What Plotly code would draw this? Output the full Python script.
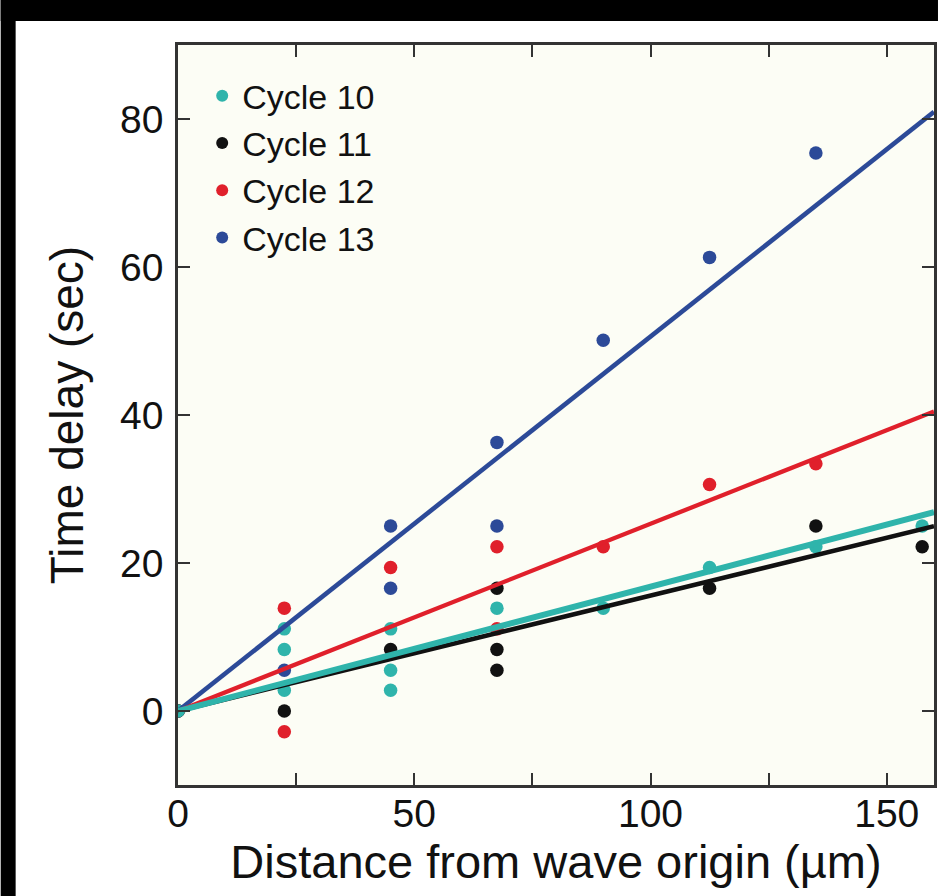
import plotly.graph_objects as go

# ---------------- data ----------------
cycles = ["Cycle 10", "Cycle 11", "Cycle 12", "Cycle 13"]
colors = ["#2fb4ab", "#111111", "#e0202b", "#2c4a98"]

c10_x = [0, 22.5, 22.5, 22.5, 45, 45, 45, 67.5, 90, 112.5, 135, 157.5]
c10_y = [0, 11.1, 8.3, 2.8, 11.1, 5.5, 2.8, 13.9, 13.9, 19.4, 22.2, 25.0]

c11_x = [0, 22.5, 45, 67.5, 67.5, 67.5, 112.5, 135, 157.5]
c11_y = [0, 0.0, 8.3, 16.6, 8.3, 5.5, 16.6, 25.0, 22.2]

c12_x = [0, 22.5, 22.5, 45, 67.5, 67.5, 90, 112.5, 135]
c12_y = [0, 13.9, -2.8, 19.4, 22.2, 11.1, 22.2, 30.6, 33.4]

c13_x = [0, 22.5, 45, 45, 67.5, 67.5, 90, 112.5, 135]
c13_y = [0, 5.5, 25.0, 16.6, 36.3, 25.0, 50.1, 61.3, 75.4]

# slopes of fitted lines through the origin (sec per µm)
slopes = [0.168, 0.156, 0.253, 0.506]
fit_x = [0, 160]

xs = [c10_x, c11_x, c12_x, c13_x]
ys = [c10_y, c11_y, c12_y, c13_y]

x_tickvals = [0, 25, 50, 75, 100, 125, 150]
x_ticktext = ["0", "", "50", "", "100", "", "150"]
y_tickvals = [0, 20, 40, 60, 80]
y_ticktext = ["0", "20", "40", "60", "80"]

# ---------------- figure ----------------
FONT = "Liberation Sans, Arial, Helvetica, sans-serif"
fig = go.Figure()

# points (drawn first, cycle 13 at the bottom, cycle 10 on top)
for i in [3, 2, 1, 0]:
    fig.add_trace(go.Scatter(
        x=xs[i], y=ys[i], mode="markers", name=cycles[i],
        marker=dict(color=colors[i], size=13.5, line=dict(width=0)),
        legendrank=i + 1, cliponaxis=True,
    ))

# fitted lines drawn on top of the points
line_widths = [6, 4.5, 4.3, 4.6]
for i in [3, 2, 1, 0]:
    fig.add_trace(go.Scatter(
        x=fit_x, y=[slopes[i] * v for v in fit_x], mode="lines",
        line=dict(color=colors[i], width=line_widths[i]),
        showlegend=False, hoverinfo="skip",
    ))

axis_common = dict(
    showline=True, linecolor="#333333", linewidth=2.5, mirror="ticks",
    ticks="inside", ticklen=12, tickwidth=2, tickcolor="#333333",
    showgrid=False, zeroline=False,
    tickfont=dict(family=FONT, size=39, color="#111111"),
)

fig.update_layout(
    width=941, height=896,
    margin=dict(l=178, r=4, t=45, b=111),
    paper_bgcolor="#ffffff",
    plot_bgcolor="#fcfdf5",
    font=dict(family=FONT, color="#111111"),
    xaxis=dict(
        range=[0, 160], tickmode="array", tickvals=x_tickvals, ticktext=x_ticktext,
        title=dict(text="Distance from wave origin (µm)",
                   font=dict(family=FONT, size=47, color="#111111"), standoff=0),
        ticklabelstandoff=-8,
        **axis_common,
    ),
    yaxis=dict(
        range=[-10, 90], tickmode="array", tickvals=y_tickvals, ticktext=y_ticktext,
        title=dict(text="Time delay (sec)",
                   font=dict(family=FONT, size=46, color="#111111"), standoff=22),
        ticklabelstandoff=4,
        **axis_common,
    ),
    legend=dict(
        x=0.032, y=0.97, xanchor="left", yanchor="top",
        bgcolor="rgba(0,0,0,0)", borderwidth=0,
        font=dict(family=FONT, size=34, color="#111111"),
        itemsizing="constant", tracegroupgap=0,
    ),
    showlegend=True,
    shapes=[
        # black frame strips around the picture (top and left)
        dict(type="rect", xref="paper", yref="paper",
             x0=-178 / 759, x1=(941 - 178) / 759,
             y0=(785 - 21) / 740, y1=785 / 740,
             fillcolor="#000000", line=dict(width=0), layer="above"),
        dict(type="rect", xref="paper", yref="paper",
             x0=-178 / 759, x1=(15 - 178) / 759,
             y0=(785 - 896) / 740, y1=785 / 740,
             fillcolor="#000000", line=dict(width=0), layer="above"),
    ],
)

fig.write_html("out.html")
